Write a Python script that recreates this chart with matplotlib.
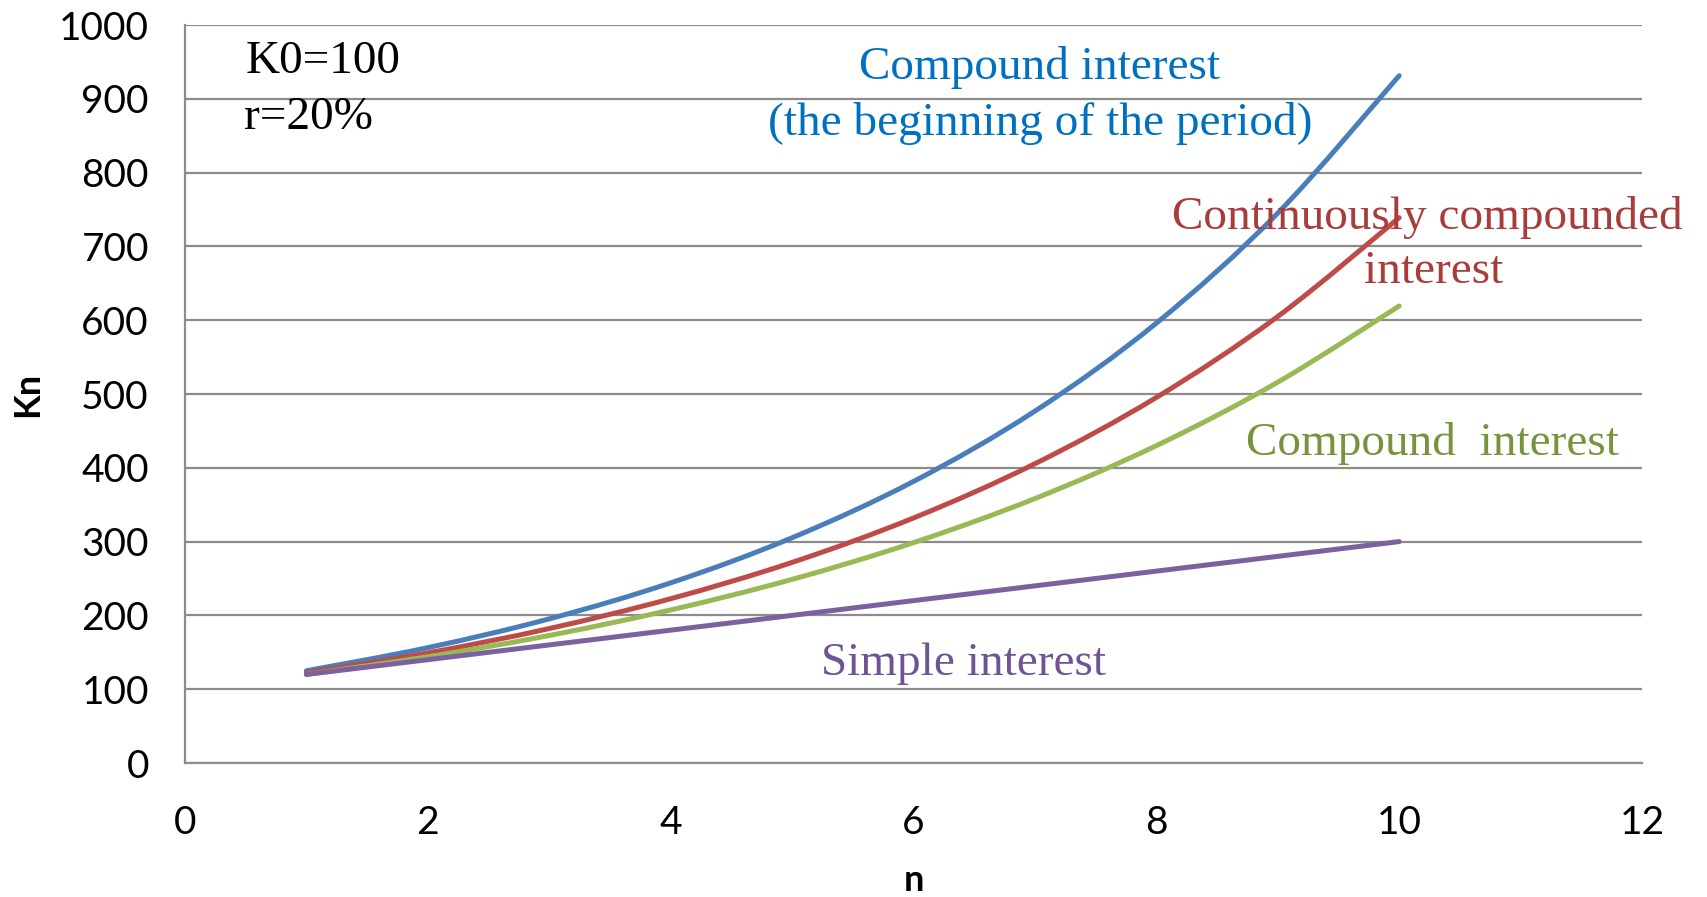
import matplotlib.pyplot as plt
from matplotlib.path import Path
from matplotlib.patches import PathPatch

n = [1, 2, 3, 4, 5, 6, 7, 8, 9, 10]
begin_period = [125.0, 156.3, 195.3, 244.1, 305.2, 381.5, 476.8, 596.0, 745.1, 931.3]
continuous = [122.1, 149.2, 182.2, 222.6, 271.8, 332.0, 405.5, 495.3, 605.0, 738.9]
compound = [120.0, 144.0, 172.8, 207.4, 248.8, 298.6, 358.3, 430.0, 516.0, 619.2]
simple = [120, 140, 160, 180, 200, 220, 240, 260, 280, 300]


def smooth_line(ax, xs, ys, color):
    # excel-like smoothed line: bezier segments through the data points
    verts = [(xs[0], ys[0])]
    codes = [Path.MOVETO]
    m = len(xs)
    for i in range(m - 1):
        x0, y0 = xs[max(i - 1, 0)], ys[max(i - 1, 0)]
        x1, y1 = xs[i], ys[i]
        x2, y2 = xs[i + 1], ys[i + 1]
        x3, y3 = xs[min(i + 2, m - 1)], ys[min(i + 2, m - 1)]
        c1 = (x1 + (x2 - x0) / 6, y1 + (y2 - y0) / 6)
        c2 = (x2 - (x3 - x1) / 6, y2 - (y3 - y1) / 6)
        verts += [c1, c2, (x2, y2)]
        codes += [Path.CURVE4] * 3
    ax.add_patch(PathPatch(Path(verts, codes), fill=False, edgecolor=color,
                           lw=3.6, capstyle="round", joinstyle="round"))


fig = plt.figure(figsize=(17.07, 8.97), dpi=100)
ax = fig.add_axes([185/1707, 1 - 763/897, (1642-185)/1707, (763-25)/897])

smooth_line(ax, n, begin_period, "#4a7ebb")
smooth_line(ax, n, continuous, "#be4b48")
smooth_line(ax, n, compound, "#98b954")
smooth_line(ax, n, simple, "#7d60a0")

ax.set_xlim(0, 12)
ax.set_ylim(0, 1000)
ax.set_xticks(range(0, 13, 2))
ax.set_yticks(range(0, 1001, 100))
ax.yaxis.grid(True, color="#8c8c8c", lw=1.6)
ax.set_axisbelow(True)
for s in ["top", "right"]:
    ax.spines[s].set_visible(False)
for s in ["left", "bottom"]:
    ax.spines[s].set_color("#8c8c8c")
    ax.spines[s].set_linewidth(1.6)
ax.tick_params(length=0, labelsize=28, pad=26)
ax.tick_params(axis="x", pad=30)
for lab in ax.get_xticklabels() + ax.get_yticklabels():
    lab.set_family("Lato")

ax.set_xlabel("n", fontsize=26, fontweight="bold", family="Lato")
ax.set_ylabel("Kn", fontsize=26, fontweight="bold", family="Lato")
ax.xaxis.set_label_coords(0.5, -0.159)
ax.yaxis.set_label_coords(-0.108, 0.5)
ax.xaxis.label.set_va("center")
ax.yaxis.label.set_va("center")

serif = "Liberation Serif"
fs = 34
ax.text(0.5, 950, "K0=100", fontsize=fs, family=serif, va="center", ha="left")
ax.text(0.49, 874, "r=20%", fontsize=fs, family=serif, va="center", ha="left")
ax.text(7.04, 943, "Compound interest", fontsize=fs, family=serif, color="#0070c0", ha="center", va="center")
ax.text(7.04, 867, "(the beginning of the period)", fontsize=fs, family=serif, color="#0070c0", ha="center", va="center")
ax.text(10.23, 739, "Continuously compounded", fontsize=fs, family=serif, color="#a83c3a", ha="center", va="center", clip_on=False)
ax.text(10.28, 665, "interest", fontsize=fs, family=serif, color="#a83c3a", ha="center", va="center")
ax.text(10.27, 433, "Compound  interest", fontsize=fs, family=serif, color="#77933c", ha="center", va="center")
ax.text(6.41, 134, "Simple interest", fontsize=fs, family=serif, color="#6f5393", ha="center", va="center")

fig.savefig("out.png", dpi=100)
